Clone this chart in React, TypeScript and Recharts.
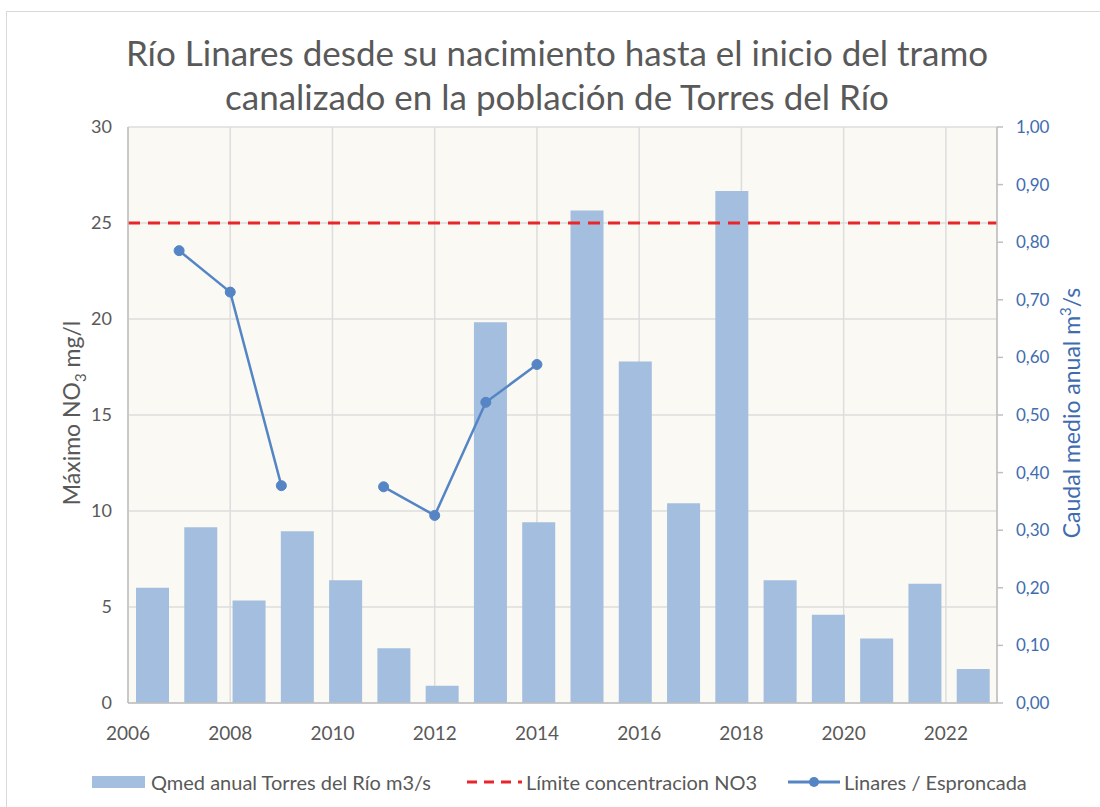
import { Bar, CartesianGrid, ComposedChart, Line, ReferenceLine, XAxis, YAxis } from "recharts";

const years = [2006, 2007, 2008, 2009, 2010, 2011, 2012, 2013, 2014, 2015, 2016, 2017, 2018, 2019, 2020, 2021, 2022, 2023];
const qmed = [0.2, 0.305, 0.178, 0.298, 0.213, 0.095, 0.03, 0.661, 0.314, 0.855, 0.593, 0.347, 0.889, 0.213, 0.153, 0.112, 0.207, 0.059];

const lineYears = [2007, 2008, 2009, 2010, 2011, 2012, 2013, 2014];
const linares: (number | null)[] = [23.56, 21.4, 11.32, null, 11.26, 9.77, 15.66, 17.63];

const limite = 25;
const xTicks = [2006, 2008, 2010, 2012, 2014, 2016, 2018, 2020, 2022];
const leftTicks = [0, 5, 10, 15, 20, 25, 30];
const rightTicks = [0, 0.1, 0.2, 0.3, 0.4, 0.5, 0.6, 0.7, 0.8, 0.9, 1.0];

const barData = years.map((y, i) => ({ year: y, q: qmed[i] }));
const lineData = lineYears.map((x, i) => ({ x, no3: linares[i] }));

const FONT = "Lato, 'Open Sans', sans-serif";
const GREY = "#595959";
const BLUE_TXT = "#3F6CAF";
const BAR = "#A3BEDE";
const LINE = "#5585C5";
const RED = "#E8262A";

export default function App() {
  return (
    <div style={{ position: "absolute", left: 0, top: 0, width: 1100, height: 807, background: "#fff", overflow: "hidden", fontFamily: FONT }}>
      <div style={{ position: "absolute", left: 6, top: 11, width: 1200, height: 900, border: "1px solid #D9D9D9" }} />
      <div
        style={{
          position: "absolute",
          left: 0,
          width: 1114,
          top: 30,
          textAlign: "center",
          fontSize: 35,
          lineHeight: "44px",
          color: GREY,
        }}
      >
        Río Linares desde su nacimiento hasta el inicio del tramo
        <br />
        canalizado en la población de Torres del Río
      </div>

      <div style={{ position: "absolute", left: 0, top: 0 }}>
        <ComposedChart width={1100} height={807} data={barData} margin={{ top: 127, right: 0, left: 0, bottom: 74 }}>
          <CartesianGrid xAxisId="year" yAxisId="left" fill="#FAF9F4" stroke="#DDDDDD" strokeWidth={1.5} />
          <XAxis xAxisId="cat" dataKey="year" type="category" hide height={0} />
          <XAxis
            xAxisId="year"
            dataKey="x"
            type="number"
            domain={[2006, 2023]}
            ticks={xTicks}
            height={30}
            tickLine={false}
            tickMargin={18}
            axisLine={{ stroke: "#BFBFBF", strokeWidth: 1.5 }}
            tick={{ fill: GREY, fontSize: 19, fontFamily: FONT }}
          />
          <YAxis
            yAxisId="left"
            orientation="left"
            width={128}
            domain={[0, 30]}
            ticks={leftTicks}
            tickLine={false}
            tickMargin={10}
            axisLine={{ stroke: "#BFBFBF", strokeWidth: 1.5 }}
            tick={{ fill: GREY, fontSize: 18, fontFamily: FONT }}
            label={{
              content: () => (
                <text x={80} y={413} transform="rotate(-90 80 413)" textAnchor="middle" fill={GREY} fontSize={23} fontFamily={FONT}>
                  Máximo NO
                  <tspan dy={6} fontSize={15}>3</tspan>
                  <tspan dy={-6}> mg/l</tspan>
                </text>
              ),
            }}
          />
          <YAxis
            yAxisId="right"
            orientation="right"
            width={103}
            domain={[0, 1]}
            ticks={rightTicks}
            tickSize={6}
            tickMargin={13}
            tickLine={{ stroke: "#BFBFBF", strokeWidth: 1.5 }}
            axisLine={{ stroke: "#BFBFBF", strokeWidth: 1.5 }}
            tick={{ fill: BLUE_TXT, fontSize: 17, fontFamily: FONT }}
            tickFormatter={(v: number) => v.toFixed(2).replace(".", ",")}
            label={{
              content: () => (
                <text x={1080} y={413} transform="rotate(-90 1080 413)" textAnchor="middle" fill={BLUE_TXT} fontSize={23} fontFamily={FONT}>
                  Caudal medio anual m
                  <tspan dy={-9} fontSize={15}>3</tspan>
                  <tspan dy={9}>/s</tspan>
                </text>
              ),
            }}
          />
          <Bar xAxisId="cat" yAxisId="right" dataKey="q" fill={BAR} barSize={33} isAnimationActive={false} />
          <ReferenceLine xAxisId="year" yAxisId="left" y={limite} stroke={RED} strokeWidth={3} strokeDasharray="12 8" />
          <Line
            xAxisId="year"
            yAxisId="left"
            data={lineData}
            dataKey="no3"
            type="linear"
            stroke={LINE}
            strokeWidth={2.5}
            dot={{ r: 5, fill: LINE, stroke: LINE, strokeWidth: 1 }}
            activeDot={false}
            connectNulls={false}
            isAnimationActive={false}
          />
        </ComposedChart>
      </div>

      <div style={{ position: "absolute", left: 0, top: 770, width: 1100, height: 24, fontSize: 20, color: GREY }}>
        <div style={{ position: "absolute", left: 92, top: 6, width: 53, height: 12, background: BAR }} />
        <div style={{ position: "absolute", left: 151, top: 0, lineHeight: "24px", whiteSpace: "nowrap" }}>Qmed anual Torres del Río m3/s</div>
        <svg style={{ position: "absolute", left: 467, top: 0 }} width={55} height={24}>
          <line x1={0} y1={12} x2={55} y2={12} stroke={RED} strokeWidth={3} strokeDasharray="10 7" />
        </svg>
        <div style={{ position: "absolute", left: 526, top: 0, lineHeight: "24px", whiteSpace: "nowrap" }}>Límite concentracion NO3</div>
        <svg style={{ position: "absolute", left: 788, top: 0 }} width={52} height={24}>
          <line x1={0} y1={12} x2={52} y2={12} stroke={LINE} strokeWidth={3} />
          <circle cx={26} cy={12} r={5} fill={LINE} />
        </svg>
        <div style={{ position: "absolute", left: 844, top: 0, lineHeight: "24px", whiteSpace: "nowrap" }}>Linares / Esproncada</div>
      </div>
    </div>
  );
}
